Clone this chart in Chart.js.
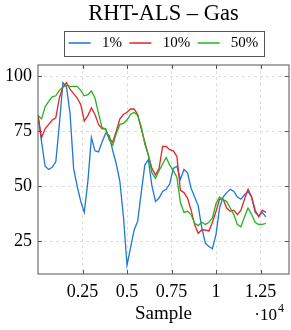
<!DOCTYPE html>
<html>
<head>
<meta charset="utf-8">
<script src="https://cdn.jsdelivr.net/npm/chart.js@4.4.1/dist/chart.umd.min.js"></script>
<style>
  html, body { margin: 0; padding: 0; background: #fff; }
</style>
</head>
<body>
<canvas id="chartGas" width="291" height="330"></canvas>
<script>
// sample index (x) and the three noise levels
const samples = [0, 200, 400, 600, 800, 1000, 1200, 1400, 1600, 1800, 2000, 2200, 2400, 2600, 2800, 3000,
  3200, 3400, 3600, 3800, 4000, 4200, 4400, 4600, 4800, 5000, 5200, 5400, 5600, 5800, 6000, 6200,
  6400, 6600, 6800, 7000, 7200, 7400, 7600, 7800, 8000, 8200, 8400, 8600, 8800, 9000, 9200, 9400,
  9600, 9800, 10000, 10200, 10400, 10600, 10800, 11000, 11200, 11400, 11600, 11800, 12000, 12200,
  12400, 12600, 12800];
const gas1 = [82, 70, 59, 57.5, 58.5, 61, 78, 97, 95, 83, 58, 50, 43, 38, 52, 72, 66, 65.5, 70, 74,
  73, 66, 60, 52, 36, 14, 22, 30, 34, 47, 59.5, 62, 50, 43, 44.5, 47.5, 48.5, 51, 58, 59,
  53, 57.5, 56, 49, 45, 41, 31, 24, 22.5, 21.5, 28, 40, 45, 47, 48.5, 47.5, 45, 44, 46, 47.5,
  45, 38, 36.5, 38, 36];
const gas10 = [82, 72, 76, 78, 80, 81, 90, 95, 97, 94, 92, 90, 87, 79.5, 82, 85.5, 82.5, 78, 76, 76,
  71.5, 70, 75, 80.5, 82.5, 83.5, 85, 85, 82.5, 76, 70, 64, 58, 55, 58, 68, 68, 66.5, 66, 63.5,
  48, 47, 44.5, 39, 32.5, 28.5, 30, 30, 29.5, 33.5, 38.5, 44, 44, 40, 38.5, 39, 37, 39, 44, 48.5,
  45, 39, 36, 39, 38];
const gas50 = [82, 80.5, 86, 88.5, 90.5, 91, 93.5, 95, 95.8, 95.3, 95.3, 95.3, 93.5, 91, 91.5, 93.2, 90, 83, 76.5, 76,
  71, 68.5, 74, 78, 78.5, 80, 82.5, 83.5, 82, 77, 69, 64, 56, 53.5, 57, 60, 63, 59.5, 57, 54,
  42.5, 38, 38.5, 37, 33, 32, 33.5, 32.5, 33.5, 35.5, 42, 45, 43.8, 43, 40, 37, 32.5, 31.5, 36, 40,
  37, 33.5, 32.5, 32.6, 33];
const seriesLabels = ['1%', '10%', '50%'];
const seriesColors = ['#1f77d6', '#e3262a', '#22b422'];

const xTickValues = [2500, 5000, 7500, 10000, 12500];
const xTickLabels = ['0.25', '0.5', '0.75', '1', '1.25'];
const yTickValues = [25, 50, 75, 100];

const serif = '"Liberation Serif", "Times New Roman", serif';

function points(values) {
  return values.map((v, i) => ({ x: samples[i], y: v }));
}

// pgfplots-like frame, inner tick marks, legend border and the x10^4 note
const axisFrame = {
  id: 'axisFrame',
  afterDraw(chart) {
    const { ctx, chartArea: a, scales: { x, y } } = chart;
    ctx.save();
    ctx.strokeStyle = '#555';
    ctx.lineWidth = 1;
    ctx.strokeRect(a.left, a.top, a.right - a.left, a.bottom - a.top);

    ctx.beginPath();
    xTickValues.forEach(v => {
      const px = Math.round(x.getPixelForValue(v)) + 0.5;
      ctx.moveTo(px, a.bottom); ctx.lineTo(px, a.bottom - 4);
      ctx.moveTo(px, a.top); ctx.lineTo(px, a.top + 4);
    });
    yTickValues.forEach(v => {
      const py = Math.round(y.getPixelForValue(v)) + 0.5;
      ctx.moveTo(a.left, py); ctx.lineTo(a.left + 4, py);
      ctx.moveTo(a.right, py); ctx.lineTo(a.right - 4, py);
    });
    ctx.stroke();

    // box round the legend
    const hb = chart.legend.legendHitBoxes;
    if (hb && hb.length) {
      const first = hb[0], last = hb[hb.length - 1];
      const cy = first.top + first.height / 2;
      const l = Math.round(first.left - 5) + 0.5;
      const r = Math.round(last.left + last.width + 6) + 0.5;
      ctx.strokeRect(l, Math.round(cy - 12.5) + 0.5, r - l, 25);
    }

    // axis multiplier
    ctx.fillStyle = '#000';
    ctx.textBaseline = 'alphabetic';
    ctx.font = '17px ' + serif;
    ctx.textAlign = 'right';
    ctx.fillText('\u00b710', a.right - 12, 320);
    ctx.font = '12px ' + serif;
    ctx.textAlign = 'left';
    ctx.fillText('4', a.right - 11, 312);
    ctx.restore();
  }
};

new Chart(document.getElementById('chartGas'), {
  type: 'line',
  data: {
    datasets: [
      { label: seriesLabels[0], data: points(gas1), borderColor: seriesColors[0], backgroundColor: seriesColors[0], order: 3 },
      { label: seriesLabels[1], data: points(gas10), borderColor: seriesColors[1], backgroundColor: seriesColors[1], order: 2 },
      { label: seriesLabels[2], data: points(gas50), borderColor: seriesColors[2], backgroundColor: seriesColors[2], order: 1 }
    ]
  },
  options: {
    responsive: false,
    animation: false,
    layout: { padding: { left: 0, right: 2, top: 0, bottom: 0 } },
    elements: {
      line: { borderWidth: 1.3, tension: 0 },
      point: { radius: 0 }
    },
    plugins: {
      tooltip: { enabled: false },
      title: {
        display: true,
        fullSize: false,
        text: 'RHT-ALS \u2013 Gas',
        color: '#000',
        font: { family: serif, size: 22.5, weight: 'normal', lineHeight: 1 },
        padding: { top: 3, bottom: 2.5 }
      },
      subtitle: {
        // spacer between legend and plot
        display: true,
        fullSize: false,
        text: '',
        weight: 500,
        font: { size: 4.5, lineHeight: 1 },
        padding: 0
      },
      legend: {
        display: true,
        fullSize: false,
        position: 'top',
        labels: {
          color: '#000',
          font: { family: serif, size: 15 },
          boxWidth: 22,
          boxHeight: 0,
          padding: 7.5,
          sort: (a, b) => a.datasetIndex - b.datasetIndex,
          generateLabels(chart) {
            const items = Chart.defaults.plugins.legend.labels.generateLabels(chart);
            items.forEach(it => { it.text = ' ' + it.text; it.lineWidth = 1.3; });
            return items;
          }
        }
      }
    },
    scales: {
      x: {
        type: 'linear',
        min: 0,
        max: 14100,
        afterBuildTicks: axis => { axis.ticks = xTickValues.map(v => ({ value: v })); },
        afterFit: axis => { axis.height = 56; },
        ticks: {
          color: '#000',
          font: { family: serif, size: 18 },
          padding: 7,
          autoSkip: false,
          maxRotation: 0,
          callback: value => xTickLabels[xTickValues.indexOf(value)]
        },
        grid: { color: '#d6d6d6', lineWidth: 0.8, drawTicks: false },
        border: { display: false, dash: [3, 3] },
        title: {
          display: true,
          text: 'Sample',
          color: '#000',
          font: { family: serif, size: 19 },
          padding: { top: 0, bottom: 5 }
        }
      },
      y: {
        min: 10,
        max: 105,
        afterBuildTicks: axis => { axis.ticks = yTickValues.map(v => ({ value: v })); },
        afterFit: axis => { axis.width = 38; },
        ticks: {
          color: '#000',
          font: { family: serif, size: 18 },
          padding: 6,
          autoSkip: false
        },
        grid: { color: '#d6d6d6', lineWidth: 0.8, drawTicks: false },
        border: { display: false, dash: [3, 3] }
      }
    }
  },
  plugins: [axisFrame]
});
</script>
</body>
</html>
